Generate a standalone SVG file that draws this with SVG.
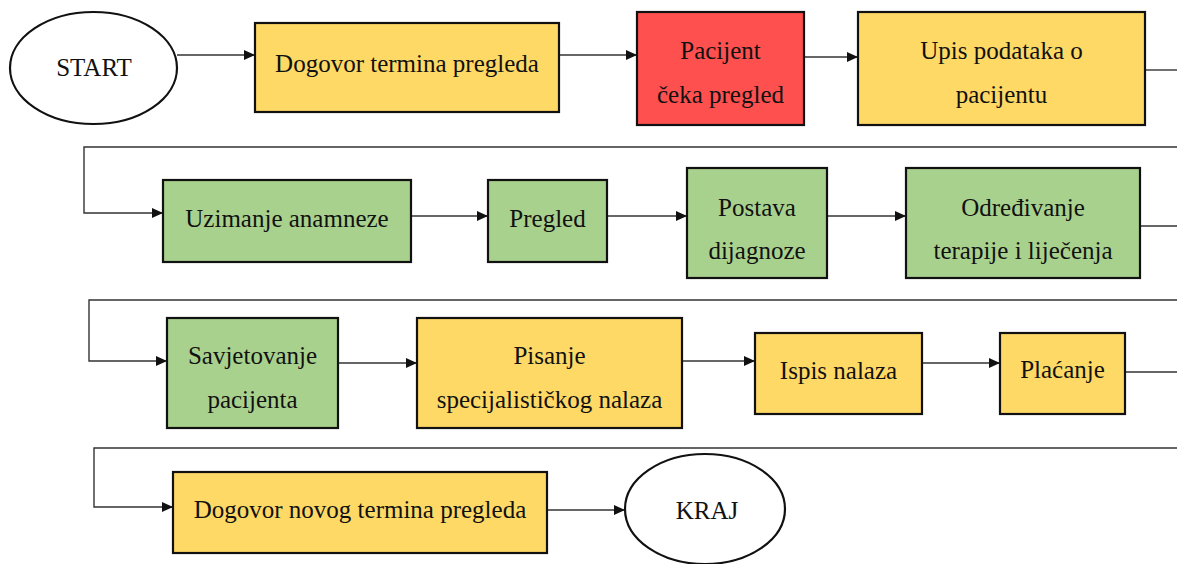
<svg xmlns="http://www.w3.org/2000/svg" width="1177" height="564" viewBox="0 0 1177 564">
<style>
.box{stroke:#111;stroke-width:2.2}
.y{fill:#FFD966}
.r{fill:#FF5050}
.g{fill:#A9D18E}
.term{fill:#fff;stroke:#111;stroke-width:2.2}
.t{font-family:"Times New Roman",Times,"Liberation Serif",Tinos,"DejaVu Serif","Noto Serif",serif;font-size:25px;fill:#111;text-anchor:middle}
.c{fill:none;stroke:#333;stroke-width:1.4}
.a{marker-end:url(#arr)}
</style>
<defs>
<marker id="arr" markerUnits="userSpaceOnUse" markerWidth="11" markerHeight="10" refX="11" refY="5" orient="auto">
<path d="M0,0 L11,5 L0,10 z" fill="#111"/>
</marker>
</defs>
<g id="connectors">
<path class="c a" d="M177,55 H255"/>
<path class="c a" d="M559,55 H637"/>
<path class="c a" d="M804,57 H858"/>
<path class="c" d="M1145,70 H1177"/>
<path class="c a" d="M1177,147 H84 V213 H163"/>
<path class="c a" d="M411,216 H488"/>
<path class="c a" d="M607,216 H687"/>
<path class="c a" d="M827,216 H906"/>
<path class="c" d="M1140,226 H1177"/>
<path class="c a" d="M1177,300 H89 V361 H167"/>
<path class="c a" d="M338,363 H417"/>
<path class="c a" d="M682,361 H755"/>
<path class="c a" d="M922,363 H1000"/>
<path class="c" d="M1125,372 H1177"/>
<path class="c a" d="M1177,448 H94 V507 H173"/>
<path class="c a" d="M547,510 H625"/>
</g>
<g id="start">
<ellipse class="term" cx="93.5" cy="68" rx="83.5" ry="56"/>
<text class="t" x="94" y="76">START</text>
</g>
<g id="dogovor">
<rect class="box y" x="255" y="23" width="304" height="89"/>
<text class="t" x="407" y="72">Dogovor termina pregleda</text>
</g>
<g id="pacijent">
<rect class="box r" x="637" y="12" width="167" height="113"/>
<text class="t" x="720.5" y="59">Pacijent</text>
<text class="t" x="720.5" y="103">čeka pregled</text>
</g>
<g id="upis">
<rect class="box y" x="858" y="12" width="287" height="113"/>
<text class="t" x="1001.5" y="59">Upis podataka o</text>
<text class="t" x="1001.5" y="103">pacijentu</text>
</g>
<g id="uzimanje">
<rect class="box g" x="163" y="180" width="248" height="82"/>
<text class="t" x="287" y="227">Uzimanje anamneze</text>
</g>
<g id="pregled">
<rect class="box g" x="488" y="180" width="119" height="82"/>
<text class="t" x="547.5" y="227">Pregled</text>
</g>
<g id="postava">
<rect class="box g" x="687" y="168" width="140" height="110"/>
<text class="t" x="757" y="216">Postava</text>
<text class="t" x="757" y="259">dijagnoze</text>
</g>
<g id="odredjivanje">
<rect class="box g" x="906" y="168" width="234" height="110"/>
<text class="t" x="1023" y="216">Određivanje</text>
<text class="t" x="1023" y="259">terapije i liječenja</text>
</g>
<g id="savjetovanje">
<rect class="box g" x="167" y="318" width="171" height="110"/>
<text class="t" x="252.5" y="364">Savjetovanje</text>
<text class="t" x="252.5" y="408">pacijenta</text>
</g>
<g id="pisanje">
<rect class="box y" x="417" y="318" width="265" height="110"/>
<text class="t" x="549.5" y="364">Pisanje</text>
<text class="t" x="549.5" y="408">specijalističkog nalaza</text>
</g>
<g id="ispis">
<rect class="box y" x="755" y="333" width="167" height="81"/>
<text class="t" x="838.5" y="379">Ispis nalaza</text>
</g>
<g id="placanje">
<rect class="box y" x="1000" y="333" width="125" height="81"/>
<text class="t" x="1062.5" y="378">Plaćanje</text>
</g>
<g id="dogovor-novog">
<rect class="box y" x="173" y="472" width="374" height="81"/>
<text class="t" x="360" y="518">Dogovor novog termina pregleda</text>
</g>
<g id="kraj">
<ellipse class="term" cx="705" cy="509" rx="80" ry="55"/>
<text class="t" x="707" y="519">KRAJ</text>
</g>
</svg>
